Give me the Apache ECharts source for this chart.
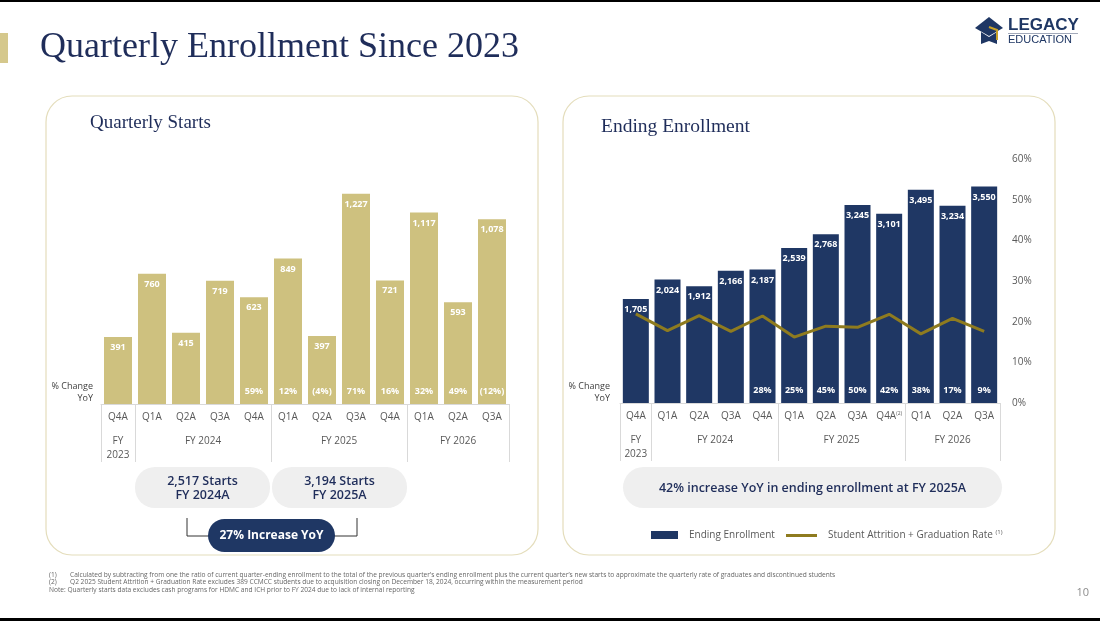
<!DOCTYPE html>
<html>
<head>
<meta charset="utf-8">
<script src="https://cdn.jsdelivr.net/npm/echarts@6/dist/echarts.min.js"></script>
<style>
  html, body { margin: 0; padding: 0; background: #fff; }
  #chart { width: 1100px; height: 621px; }
</style>
</head>
<body>
<div id="chart"></div>
<script>
// data
var quarters = ['Q4A', 'Q1A', 'Q2A', 'Q3A', 'Q4A', 'Q1A', 'Q2A', 'Q3A', 'Q4A', 'Q1A', 'Q2A', 'Q3A'];
var fiscalYears = ['FY\n2023', 'FY 2024', 'FY 2024', 'FY 2024', 'FY 2024', 'FY 2025', 'FY 2025', 'FY 2025', 'FY 2025', 'FY 2026', 'FY 2026', 'FY 2026'];
var starts = [391, 760, 415, 719, 623, 849, 397, 1227, 721, 1117, 593, 1078];
var startsYoY = ['', '', '', '', '59%', '12%', '(4%)', '71%', '16%', '32%', '49%', '(12%)'];
var enrollment = [1705, 2024, 1912, 2166, 2187, 2539, 2768, 3245, 3101, 3495, 3234, 3550];
var enrollmentYoY = ['', '', '', '', '28%', '25%', '45%', '50%', '42%', '38%', '17%', '9%'];
var enrollmentNotes = ['', '', '', '', '', '', '', '', '(2)', '', '', ''];
var attritionRate = [21.9, 17.8, 21.5, 17.6, 21.4, 16.2, 18.9, 18.6, 21.8, 17.0, 20.8, 17.6];

var NAVY = '#1F3764';
var GOLD = '#CEC17F';
var OLIVE = '#8E7B1F';
var GRAYTXT = '#595959';
var LINE = '#D9D9D9';
var FONT = '"Open Sans", "Noto Sans", sans-serif';
var SERIF = '"Liberation Serif", "DejaVu Serif", serif';
var NOTE = '6.6px ' + FONT;

// fiscal year runs -> separators and centred group labels
var groups = [];
fiscalYears.forEach(function (fy, i) {
  var g = groups[groups.length - 1];
  if (g && g.name === fy) g.end = i;
  else groups.push({ name: fy, start: i, end: i });
});
var groupStarts = groups.map(function (g) { return g.start; });

function groupLabel(v) {
  for (var i = 0; i < groups.length; i++) {
    if ((groups[i].start + groups[i].end) / 2 === v) return groups[i].name;
  }
  return '';
}
function fmt(p) { return p.value.toLocaleString('en-US'); }

function quarterAxis(gridIndex, notes) {
  return {
    type: 'category', gridIndex: gridIndex, data: quarters,
    axisLine: { lineStyle: { color: LINE, width: 1 } },
    axisTick: {
      show: true, length: 58, lineStyle: { color: LINE },
      interval: function (index) { return groupStarts.indexOf(index) >= 0; }
    },
    axisLabel: {
      interval: 0, margin: 8, color: GRAYTXT, fontFamily: FONT, fontSize: 10,
      formatter: function (v, i) {
        return notes && notes[i] ? v + '{sup|' + notes[i] + '}' : v;
      },
      rich: { sup: { fontSize: 5, color: GRAYTXT, fontFamily: FONT, verticalAlign: 'top', padding: [0, 0, 5, 0] } }
    }
  };
}
function fyAxis(gridIndex) {
  return {
    type: 'value', gridIndex: gridIndex, position: 'bottom',
    min: -0.5, max: quarters.length - 0.5, interval: 0.5,
    axisLine: { show: false }, axisTick: { show: false }, splitLine: { show: false },
    axisLabel: {
      margin: 30, color: GRAYTXT, fontFamily: FONT, fontSize: 10, lineHeight: 14,
      showMinLabel: true, showMaxLabel: true, formatter: groupLabel
    }
  };
}

var valueLabel = {
  show: true, position: 'insideTop', distance: 6, color: '#fff',
  fontFamily: FONT, fontWeight: 'bold', fontSize: 9, formatter: fmt
};
function yoyLabel(arr) {
  return {
    show: true, position: 'insideBottom', distance: 8, color: '#fff',
    fontFamily: FONT, fontWeight: 'bold', fontSize: 9,
    formatter: function (p) { return arr[p.dataIndex]; }
  };
}
var legendText = {
  fontFamily: FONT, fontSize: 10, color: GRAYTXT, padding: [0, 0, 0, 6],
  rich: { sup: { fontSize: 6, color: GRAYTXT, fontFamily: FONT, verticalAlign: 'top', padding: [0, 0, 6, 0] } }
};

var option = {
  animation: false,
  backgroundColor: '#fff',
  grid: [
    { left: 101, top: 164, width: 408, height: 240 },
    { left: 620, top: 159, width: 380, height: 244 }
  ],
  xAxis: [quarterAxis(0), fyAxis(0), quarterAxis(1, enrollmentNotes), fyAxis(1)],
  yAxis: [
    { type: 'value', gridIndex: 0, min: 0, max: 1400, show: false },
    { type: 'value', gridIndex: 1, min: 0, max: 4000, show: false },
    {
      type: 'value', gridIndex: 1, position: 'right', min: 0, max: 60, interval: 10,
      axisLine: { show: false }, axisTick: { show: false }, splitLine: { show: false },
      axisLabel: { margin: 12, color: GRAYTXT, fontFamily: FONT, fontSize: 10, formatter: '{value}%' }
    }
  ],
  legend: [
    {
      left: 651, top: 530, padding: 0, itemWidth: 27, itemHeight: 8, selectedMode: false,
      data: [{ name: 'Ending Enrollment', icon: 'rect' }], textStyle: legendText
    },
    {
      left: 786, top: 529.5, padding: 0, itemWidth: 31, itemHeight: 3, selectedMode: false,
      data: [{ name: 'Student Attrition + Graduation Rate', icon: 'rect' }], textStyle: legendText,
      formatter: function (n) { return n + ' {sup|(1)}'; }
    }
  ],
  series: [
    {
      name: 'Quarterly Starts', type: 'bar', xAxisIndex: 0, yAxisIndex: 0, data: starts,
      barWidth: 28, itemStyle: { color: GOLD }, label: valueLabel, z: 2
    },
    {
      type: 'bar', xAxisIndex: 0, yAxisIndex: 0, data: starts, barWidth: 28, barGap: '-100%',
      itemStyle: { color: 'rgba(0,0,0,0)' }, label: yoyLabel(startsYoY), silent: true, z: 3
    },
    {
      name: 'Ending Enrollment', type: 'bar', xAxisIndex: 2, yAxisIndex: 1, data: enrollment,
      barWidth: 26, itemStyle: { color: NAVY }, label: valueLabel, z: 2
    },
    {
      type: 'bar', xAxisIndex: 2, yAxisIndex: 1, data: enrollment, barWidth: 26, barGap: '-100%',
      itemStyle: { color: 'rgba(0,0,0,0)' }, label: yoyLabel(enrollmentYoY), silent: true, z: 3
    },
    {
      name: 'Student Attrition + Graduation Rate', type: 'line', xAxisIndex: 2, yAxisIndex: 2,
      data: attritionRate, symbol: 'none', lineStyle: { color: OLIVE, width: 3 },
      itemStyle: { color: OLIVE }, z: 6
    }
  ],
  graphic: [
    // slide frame
    { type: 'rect', shape: { x: 0, y: 0, width: 1100, height: 2 }, style: { fill: '#000' } },
    { type: 'rect', shape: { x: 0, y: 618, width: 1100, height: 3 }, style: { fill: '#000' } },
    { type: 'rect', shape: { x: 0, y: 33, width: 8, height: 30 }, style: { fill: '#D5C88C' } },
    { type: 'text', x: 40, y: 48, style: { text: 'Quarterly Enrollment Since 2023', font: '36px ' + SERIF, fill: '#1F2D5A', verticalAlign: 'middle' } },
    // logo
    { type: 'polygon', shape: { points: [[975, 28], [989, 17], [1003, 28], [989, 36]] }, style: { fill: NAVY } },
    { type: 'polygon', shape: { points: [[981, 32], [989, 37], [997, 32], [997, 44], [989, 41], [981, 44]] }, style: { fill: NAVY } },
    { type: 'polyline', shape: { points: [[989, 27], [997, 30], [997, 40]] }, style: { stroke: '#C9A227', lineWidth: 2, fill: null } },
    { type: 'text', x: 1008, y: 25, style: { text: 'LEGACY', font: 'bold 17px "Liberation Sans", sans-serif', fill: NAVY, verticalAlign: 'middle' } },
    { type: 'line', shape: { x1: 1008, y1: 33.5, x2: 1078, y2: 33.5 }, style: { stroke: '#8C94A8', lineWidth: 0.8 } },
    { type: 'text', x: 1008, y: 40, style: { text: 'EDUCATION', font: '11px "Liberation Sans", sans-serif', fill: NAVY, verticalAlign: 'middle' } },
    // panels
    { type: 'rect', shape: { x: 46, y: 96, width: 492, height: 459, r: 26 }, style: { fill: null, stroke: '#E4DDBB', lineWidth: 1.2 } },
    { type: 'rect', shape: { x: 563, y: 96, width: 492, height: 459, r: 26 }, style: { fill: null, stroke: '#E4DDBB', lineWidth: 1.2 } },
    { type: 'text', x: 90, y: 123, style: { text: 'Quarterly Starts', font: '19px ' + SERIF, fill: '#1F2D5A', verticalAlign: 'middle' } },
    { type: 'text', x: 601, y: 127, style: { text: 'Ending Enrollment', font: '19.5px ' + SERIF, fill: '#1F2D5A', verticalAlign: 'middle' } },
    { type: 'text', x: 93, y: 392, style: { text: '% Change\nYoY', font: '9px ' + FONT, lineHeight: 12, fill: '#404040', align: 'right', verticalAlign: 'middle' } },
    { type: 'text', x: 610, y: 392, style: { text: '% Change\nYoY', font: '9px ' + FONT, lineHeight: 12, fill: '#404040', align: 'right', verticalAlign: 'middle' } },
    // left summary pills
    { type: 'rect', shape: { x: 135, y: 467, width: 135, height: 41, r: 20 }, style: { fill: '#EFEFEF' } },
    { type: 'text', x: 202.5, y: 488, style: { text: '2,517 Starts\nFY 2024A', font: '600 12.5px ' + FONT, lineHeight: 14, fill: '#1F2D5A', align: 'center', verticalAlign: 'middle' } },
    { type: 'rect', shape: { x: 272, y: 467, width: 135, height: 41, r: 20 }, style: { fill: '#EFEFEF' } },
    { type: 'text', x: 339.5, y: 488, style: { text: '3,194 Starts\nFY 2025A', font: '600 12.5px ' + FONT, lineHeight: 14, fill: '#1F2D5A', align: 'center', verticalAlign: 'middle' } },
    { type: 'polyline', shape: { points: [[187, 518], [187, 536], [210, 536]] }, style: { stroke: '#333', lineWidth: 1, fill: null } },
    { type: 'polyline', shape: { points: [[333, 536], [357, 536], [357, 518]] }, style: { stroke: '#333', lineWidth: 1, fill: null } },
    { type: 'rect', shape: { x: 208, y: 519, width: 127, height: 33, r: 16.5 }, style: { fill: NAVY } },
    { type: 'text', x: 271.5, y: 535.5, style: { text: '27% Increase YoY', font: 'bold 12px ' + FONT, fill: '#fff', align: 'center', verticalAlign: 'middle' } },
    // right summary pill
    { type: 'rect', shape: { x: 623, y: 467, width: 379, height: 41, r: 20.5 }, style: { fill: '#EFEFEF' } },
    { type: 'text', x: 812.5, y: 488, style: { text: '42% increase YoY in ending enrollment at FY 2025A', font: '600 12.5px ' + FONT, fill: '#1F2D5A', align: 'center', verticalAlign: 'middle' } },
    // footnotes
    { type: 'text', x: 49, y: 575, style: { text: '(1)', font: NOTE, fill: '#666', verticalAlign: 'middle' } },
    { type: 'text', x: 70, y: 575, style: { text: 'Calculated by subtracting from one the ratio of current quarter-ending enrollment to the total of the previous quarter\u2019s ending enrollment plus the current quarter\u2019s new starts to approximate the quarterly rate of graduates and discontinued students', font: NOTE, fill: '#666', verticalAlign: 'middle' } },
    { type: 'text', x: 49, y: 582.5, style: { text: '(2)', font: NOTE, fill: '#666', verticalAlign: 'middle' } },
    { type: 'text', x: 70, y: 582.5, style: { text: 'Q2 2025 Student Attrition + Graduation Rate excludes 389 CCMCC students due to acquisition closing on December 18, 2024, occurring within the measurement period', font: NOTE, fill: '#666', verticalAlign: 'middle' } },
    { type: 'text', x: 49, y: 590, style: { text: 'Note: Quarterly starts data excludes cash programs for HDMC and ICH prior to FY 2024 due to lack of internal reporting', font: NOTE, fill: '#666', verticalAlign: 'middle' } },
    { type: 'text', x: 1089, y: 593, style: { text: '10', font: '11px ' + FONT, fill: '#8C8C8C', align: 'right', verticalAlign: 'middle' } }
  ]
};

var chart = echarts.init(document.getElementById('chart'), null, { renderer: 'canvas' });
chart.setOption(option);
</script>
</body>
</html>
